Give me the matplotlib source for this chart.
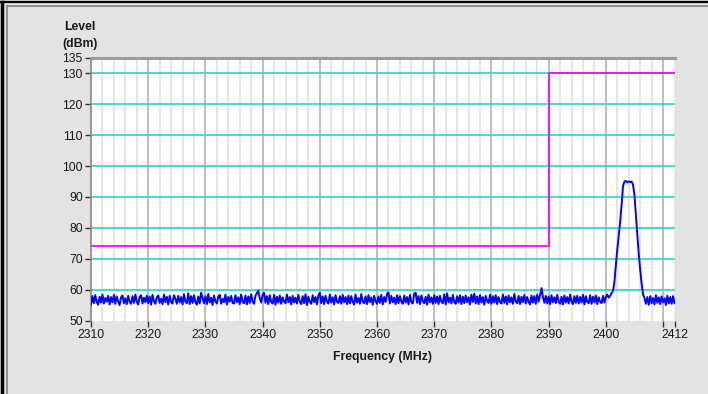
import numpy as np
import matplotlib
matplotlib.use("Agg")
import matplotlib.pyplot as plt
from matplotlib.lines import Line2D

plt.rcParams["font.family"] = ["Liberation Sans", "DejaVu Sans"]

# Spectrum sweep: 0.25 MHz steps
f_start, f_step = 2310.0, 0.25

noise_low = """
55.3 57.9 55.6 58.2 56.0 55.1 57.7 55.8 58.4 55.5 57.3 56.1 58.0 55.2 57.6 55.9 58.3 55.4 57.8 56.2
55.0 57.5 58.1 55.6 57.2 55.3 58.0 56.0 55.4 57.9 55.7 58.4 56.1 55.2 57.6 58.2 55.5 57.4 55.9 58.0
55.6 57.8 55.1 58.3 56.2 55.4 57.5 58.1 55.7 57.0 55.3 58.4 55.9 57.7 55.2 58.0 56.0 55.5 58.2 57.1
55.4 58.0 55.8 57.6 55.2 58.5 56.1 55.6 58.8 55.3 57.9 55.7 58.2 56.0 55.1 57.8 55.5 59.0 57.3 55.6
57.9 55.3 58.6 55.8 57.4 55.0 58.1 56.2 55.5 57.7 58.3 55.4 57.0 55.9 58.4 55.2 57.6 56.1 58.0 55.7
55.5 58.2 55.9 57.5 55.3 58.4 56.0 55.6 58.1 55.2 57.8 55.7 58.5 56.1 55.4 58.0 58.9 59.6 57.2 55.8
58.4 59.0 55.7 57.9 55.3 58.2 56.0 55.5 58.3 55.1 57.7 55.8 58.1 55.4 57.5 56.2 55.6 58.4 55.9 57.6
55.2 58.0 55.8 57.4 55.5 58.3 56.1 55.3 57.9 55.6 58.5 55.0 57.7 56.0 55.4 58.2 55.9 57.6 55.2 58.1
59.0 55.6 57.8 55.3 58.0 56.1 55.5 58.4 55.8 57.5 55.2 58.2 56.0 55.7 57.9 55.4 58.3 55.9 57.6 55.3
58.1 55.5 57.9 56.0 55.2 58.4 55.8 57.3 55.4 58.6 56.1 55.6 57.8 55.3 58.2 55.9 57.5 55.1 58.0 56.2
55.4 57.8 55.7 58.3 55.2 57.6 56.0 58.6 59.1 55.5 58.0 55.9 57.4 55.3 58.2 55.6 57.9 56.1 55.4 58.1
55.8 57.6 55.2 58.3 56.0 55.5 58.7 59.0 55.7 57.9 55.3 58.1 56.2 55.6 57.7 55.1 58.4 55.9 57.5 55.4
58.2 55.7 57.8 55.3 58.0 56.1 55.6 58.5 55.2 58.8 55.9 57.4 55.5 58.3 56.0 55.4 57.9 55.8 58.2 55.3
57.7 55.6 58.1 55.9 57.5 55.2 58.4 56.0 58.7 55.5 57.8 55.3 58.2 55.8 57.6 55.1 58.0 56.2 55.7 58.3
55.4 57.9 55.8 58.2 55.3 57.6 56.0 55.5 58.4 55.7 57.8 55.2 58.1 55.9 57.5 55.4 58.6 56.1 55.6 58.0
55.3 57.7 55.9 58.3 55.5 57.6 56.0 55.2 58.1 55.8 57.9 55.4 58.4 56.1 58.2 60.5 57.6 55.7 58.0 55.5
57.8 55.3 58.2 55.9 57.5 55.6 58.3 56.0 55.4 57.7 55.2 58.1 55.8 57.6 55.5 58.4 56.1 55.3 57.9 55.7
58.0 55.5 57.6 55.8 58.3 55.2 57.9 56.0 55.6 58.2 55.4 57.7 55.9 58.1 55.3 57.5 56.1 55.6 58.0 55.8
57.6 58.4
"""

carrier = """
57.4 58.0 58.8 59.6 62.5 68.0 73.0 77.5 82.0 87.5 93.5 95.0 95.2 94.7 95.0 94.8 95.0 94.0
90.5 84.0 77.5 71.5 66.5 62.0 58.5 57.2
"""

noise_high = """
55.4 57.6 55.1 57.9 55.6 57.3 55.2 58.2 55.7 57.5 55.3 57.8 55.9 57.2 55.0 58.0 55.5 57.6 55.4 57.9 55.6
"""

level = np.array((noise_low + carrier + noise_high).split(), dtype=float)
freq = f_start + f_step * np.arange(level.size)

# Limit mask (dBm)
mask_freq = [2310, 2390, 2390, 2412]
mask_level = [74, 74, 130, 130]

x_major = list(range(2310, 2401, 10)) + [2410, 2412]
x_labels = [str(v) for v in range(2310, 2401, 10)] + ["", "2412"]
y_ticks = [50, 60, 70, 80, 90, 100, 110, 120, 130, 135]
h_grid = [60, 70, 80, 90, 100, 110, 120, 130]

fig = plt.figure(figsize=(7.08, 3.94), dpi=100, facecolor="#e3e3e3")
ax = fig.add_axes([91 / 708, 1 - 320.5 / 394, (674.5 - 91) / 708, (320.5 - 58) / 394])
ax.set_facecolor("white")
ax.set_xlim(2310, 2412)
ax.set_ylim(50, 135)

# vertical grid: light every 2 MHz, darker every 10 MHz
for v in range(2312, 2413, 2):
    major = v % 10 == 0
    ax.axvline(v, color="#b8b8b8" if major else "#e4e4e4", lw=1.3, zorder=1)
for h in h_grid:
    ax.axhline(h, color="#3ed4d4", lw=1.3, zorder=2)

ax.plot(mask_freq, mask_level, color="#ff00ff", lw=1.3, zorder=3)
ax.plot(freq, level, color="#0000ff", lw=1.4, zorder=4)

ax.set_xticks(x_major)
ax.set_xticklabels(x_labels)
ax.set_yticks(y_ticks)
ax.tick_params(axis="both", colors="#333333", labelcolor="#1a1a1a", labelsize=8.8,
               length=4, width=1, direction="out", pad=2)

for side in ("right", "bottom"):
    ax.spines[side].set_visible(False)
ax.spines["top"].set_color("#9a9a9a")
ax.spines["top"].set_linewidth(2.2)
ax.spines["left"].set_color("#888888")
ax.spines["left"].set_linewidth(1.2)

ax.set_xlabel("Frequency (MHz)", fontsize=8.8, fontweight="bold", color="#1a1a1a", labelpad=7)
fig.text(80 / 708, 1 - 27 / 394, "Level", fontsize=8.8, fontweight="bold",
         color="#1a1a1a", ha="center", va="center")
fig.text(80 / 708, 1 - 44 / 394, "(dBm)", fontsize=8.8, fontweight="bold",
         color="#1a1a1a", ha="center", va="center")

# window frame
W, H = 708, 394
fig.add_artist(Line2D([0, 1], [1 - 0.5 / H] * 2, transform=fig.transFigure, color="#7ed67e", lw=1))
fig.add_artist(Line2D([0, 1], [1 - 2 / H] * 2, transform=fig.transFigure, color="black", lw=1.6))
fig.add_artist(Line2D([1.5 / W] * 2, [0, 1 - 1.5 / H], transform=fig.transFigure, color="black", lw=2.5))
fig.add_artist(Line2D([7 / W, 1], [1 - 6 / H] * 2, transform=fig.transFigure, color="#808080", lw=1.2))
fig.add_artist(Line2D([7 / W] * 2, [0, 1 - 6 / H], transform=fig.transFigure, color="#808080", lw=1.2))

fig.savefig("out.png", dpi=100, facecolor=fig.get_facecolor())
